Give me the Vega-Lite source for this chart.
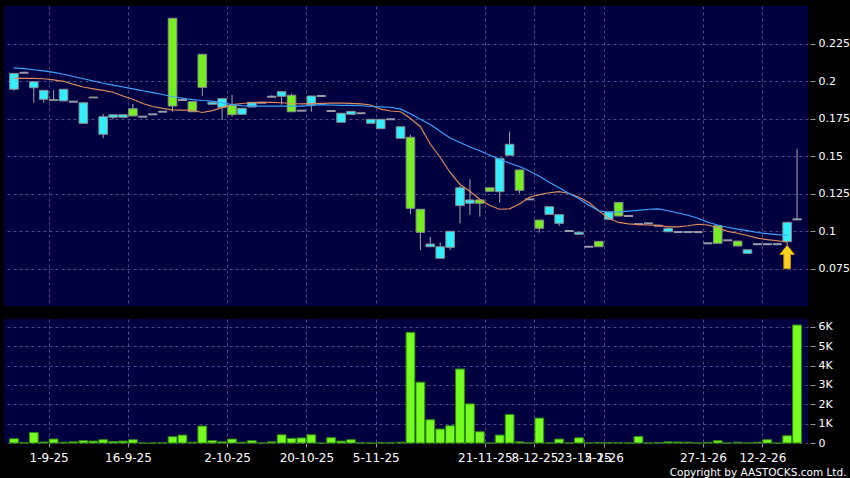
{
  "$schema": "https://vega.github.io/schema/vega-lite/v6.json",
  "background": "#000000",
  "padding": {"left": 4, "top": 6, "right": 0, "bottom": 0},
  "spacing": 13,
  "config": {
    "view": {"fill": "#000040", "stroke": null},
    "font": "DejaVu Sans",
    "axis": {
      "gridColor": "#4c4c80",
      "gridDash": [3, 3],
      "gridWidth": 1,
      "labelColor": "#ffffff",
      "labelFont": "DejaVu Sans",
      "tickColor": "#9a9a9a",
      "domain": false
    }
  },
  "datasets": {
    "k": [
      {"i":0,"open":0.1945,"high":0.2051,"low":0.1935,"close":0.2051,"volume":220,"ma10":0.2018,"ma20":0.2088},
      {"i":1,"open":0.2055,"high":0.2055,"low":0.2055,"close":0.2055,"volume":20,"ma10":0.2018,"ma20":0.2082},
      {"i":2,"open":0.1955,"high":0.1995,"low":0.1855,"close":0.1995,"volume":545,"ma10":0.2018,"ma20":0.2075},
      {"i":3,"open":0.1878,"high":0.1938,"low":0.1855,"close":0.1938,"volume":50,"ma10":0.2015,"ma20":0.2067},
      {"i":4,"open":0.1876,"high":0.194,"low":0.187,"close":0.187,"volume":205,"ma10":0.2008,"ma20":0.2058},
      {"i":5,"open":0.1867,"high":0.1945,"low":0.1867,"close":0.1945,"volume":40,"ma10":0.1998,"ma20":0.2045},
      {"i":6,"open":0.1862,"high":0.1862,"low":0.1862,"close":0.1862,"volume":60,"ma10":0.1978,"ma20":0.203},
      {"i":7,"open":0.1718,"high":0.1855,"low":0.1718,"close":0.1855,"volume":120,"ma10":0.196,"ma20":0.2015},
      {"i":8,"open":0.1893,"high":0.1893,"low":0.1887,"close":0.1887,"volume":100,"ma10":0.1948,"ma20":0.2},
      {"i":9,"open":0.1645,"high":0.178,"low":0.1618,"close":0.1762,"volume":170,"ma10":0.1937,"ma20":0.1985},
      {"i":10,"open":0.1758,"high":0.1775,"low":0.1745,"close":0.1775,"volume":80,"ma10":0.1925,"ma20":0.1972},
      {"i":11,"open":0.1758,"high":0.1775,"low":0.1758,"close":0.1775,"volume":100,"ma10":0.19,"ma20":0.196},
      {"i":12,"open":0.1815,"high":0.1847,"low":0.1767,"close":0.1767,"volume":170,"ma10":0.1878,"ma20":0.1947},
      {"i":13,"open":0.1762,"high":0.1762,"low":0.1762,"close":0.1762,"volume":0,"ma10":0.185,"ma20":0.1935},
      {"i":14,"open":0.1778,"high":0.1778,"low":0.1778,"close":0.1778,"volume":0,"ma10":0.183,"ma20":0.1922},
      {"i":15,"open":0.1795,"high":0.1795,"low":0.1795,"close":0.1795,"volume":10,"ma10":0.1818,"ma20":0.191},
      {"i":16,"open":0.2418,"high":0.2418,"low":0.1795,"close":0.1833,"volume":325,"ma10":0.1808,"ma20":0.1895},
      {"i":17,"open":0.1873,"high":0.189,"low":0.1873,"close":0.1873,"volume":410,"ma10":0.1806,"ma20":0.1885},
      {"i":18,"open":0.1862,"high":0.1862,"low":0.1795,"close":0.1795,"volume":40,"ma10":0.1805,"ma20":0.1876},
      {"i":19,"open":0.2178,"high":0.2178,"low":0.19,"close":0.1958,"volume":875,"ma10":0.179,"ma20":0.187},
      {"i":20,"open":0.1845,"high":0.1858,"low":0.1845,"close":0.1858,"volume":120,"ma10":0.1803,"ma20":0.1866},
      {"i":21,"open":0.1825,"high":0.1882,"low":0.174,"close":0.1882,"volume":60,"ma10":0.1822,"ma20":0.1855},
      {"i":22,"open":0.1838,"high":0.1907,"low":0.1762,"close":0.1776,"volume":205,"ma10":0.1842,"ma20":0.1842},
      {"i":23,"open":0.1778,"high":0.1818,"low":0.1778,"close":0.1818,"volume":40,"ma10":0.185,"ma20":0.1836},
      {"i":24,"open":0.1827,"high":0.1858,"low":0.1827,"close":0.1858,"volume":120,"ma10":0.1855,"ma20":0.1834},
      {"i":25,"open":0.1855,"high":0.1855,"low":0.1855,"close":0.1855,"volume":0,"ma10":0.1857,"ma20":0.1833},
      {"i":26,"open":0.1895,"high":0.1905,"low":0.1895,"close":0.1895,"volume":60,"ma10":0.1858,"ma20":0.1832},
      {"i":27,"open":0.1898,"high":0.1929,"low":0.1842,"close":0.1929,"volume":425,"ma10":0.1855,"ma20":0.1832},
      {"i":28,"open":0.1905,"high":0.1916,"low":0.1795,"close":0.1795,"volume":240,"ma10":0.185,"ma20":0.1833},
      {"i":29,"open":0.1802,"high":0.1802,"low":0.1802,"close":0.1802,"volume":260,"ma10":0.1847,"ma20":0.1833},
      {"i":30,"open":0.1842,"high":0.19,"low":0.1795,"close":0.19,"volume":425,"ma10":0.1849,"ma20":0.1838},
      {"i":31,"open":0.19,"high":0.19,"low":0.19,"close":0.19,"volume":0,"ma10":0.1851,"ma20":0.1842},
      {"i":32,"open":0.18,"high":0.1805,"low":0.18,"close":0.18,"volume":275,"ma10":0.1852,"ma20":0.184},
      {"i":33,"open":0.1725,"high":0.1785,"low":0.1725,"close":0.1785,"volume":100,"ma10":0.1852,"ma20":0.1838},
      {"i":34,"open":0.1778,"high":0.1798,"low":0.1778,"close":0.1798,"volume":170,"ma10":0.1851,"ma20":0.1837},
      {"i":35,"open":0.1785,"high":0.1785,"low":0.1785,"close":0.1785,"volume":10,"ma10":0.1848,"ma20":0.1835},
      {"i":36,"open":0.1718,"high":0.1745,"low":0.1718,"close":0.1745,"volume":0,"ma10":0.184,"ma20":0.183},
      {"i":37,"open":0.1682,"high":0.1745,"low":0.1682,"close":0.1745,"volume":20,"ma10":0.1812,"ma20":0.1828},
      {"i":38,"open":0.1745,"high":0.1745,"low":0.1745,"close":0.1745,"volume":10,"ma10":0.18,"ma20":0.1825},
      {"i":39,"open":0.1618,"high":0.1695,"low":0.1618,"close":0.1695,"volume":40,"ma10":0.1795,"ma20":0.1812},
      {"i":40,"open":0.1625,"high":0.164,"low":0.1113,"close":0.1151,"volume":5710,"ma10":0.175,"ma20":0.1782},
      {"i":41,"open":0.1145,"high":0.1145,"low":0.0873,"close":0.0991,"volume":3140,"ma10":0.1695,"ma20":0.1745},
      {"i":42,"open":0.0895,"high":0.0962,"low":0.0895,"close":0.0913,"volume":1200,"ma10":0.158,"ma20":0.171},
      {"i":43,"open":0.0818,"high":0.0922,"low":0.0818,"close":0.0895,"volume":720,"ma10":0.149,"ma20":0.1665},
      {"i":44,"open":0.0891,"high":0.0998,"low":0.0873,"close":0.0998,"volume":890,"ma10":0.139,"ma20":0.162},
      {"i":45,"open":0.1169,"high":0.13,"low":0.1051,"close":0.1288,"volume":3820,"ma10":0.131,"ma20":0.159},
      {"i":46,"open":0.1185,"high":0.1345,"low":0.1107,"close":0.1207,"volume":2020,"ma10":0.1265,"ma20":0.156},
      {"i":47,"open":0.1207,"high":0.1207,"low":0.1095,"close":0.1185,"volume":580,"ma10":0.121,"ma20":0.1535},
      {"i":48,"open":0.1288,"high":0.1288,"low":0.1265,"close":0.1265,"volume":0,"ma10":0.117,"ma20":0.1505},
      {"i":49,"open":0.1262,"high":0.1485,"low":0.1189,"close":0.1485,"volume":410,"ma10":0.1145,"ma20":0.1478},
      {"i":50,"open":0.1505,"high":0.1662,"low":0.1505,"close":0.1578,"volume":1470,"ma10":0.1148,"ma20":0.1452},
      {"i":51,"open":0.1407,"high":0.1407,"low":0.1251,"close":0.1271,"volume":60,"ma10":0.118,"ma20":0.143},
      {"i":52,"open":0.1211,"high":0.1211,"low":0.1211,"close":0.1211,"volume":0,"ma10":0.1225,"ma20":0.14},
      {"i":53,"open":0.1073,"high":0.1073,"low":0.0989,"close":0.1018,"volume":1285,"ma10":0.1242,"ma20":0.1365},
      {"i":54,"open":0.1111,"high":0.1162,"low":0.1111,"close":0.1162,"volume":0,"ma10":0.1255,"ma20":0.1325},
      {"i":55,"open":0.1051,"high":0.1109,"low":0.1033,"close":0.1109,"volume":205,"ma10":0.1262,"ma20":0.1288},
      {"i":56,"open":0.1,"high":0.1,"low":0.1,"close":0.1,"volume":0,"ma10":0.125,"ma20":0.125},
      {"i":57,"open":0.0978,"high":0.0992,"low":0.0978,"close":0.0992,"volume":270,"ma10":0.1225,"ma20":0.1215},
      {"i":58,"open":0.0895,"high":0.0895,"low":0.0895,"close":0.0895,"volume":0,"ma10":0.119,"ma20":0.1172},
      {"i":59,"open":0.0931,"high":0.0931,"low":0.0895,"close":0.0895,"volume":20,"ma10":0.1135,"ma20":0.1135},
      {"i":60,"open":0.1078,"high":0.1128,"low":0.1078,"close":0.1128,"volume":20,"ma10":0.1085,"ma20":0.1125},
      {"i":61,"open":0.119,"high":0.119,"low":0.11,"close":0.11,"volume":10,"ma10":0.1057,"ma20":0.1127},
      {"i":62,"open":0.11,"high":0.11,"low":0.11,"close":0.11,"volume":0,"ma10":0.1047,"ma20":0.1132},
      {"i":63,"open":0.1046,"high":0.1046,"low":0.1046,"close":0.1046,"volume":340,"ma10":0.1042,"ma20":0.1138},
      {"i":64,"open":0.1051,"high":0.1051,"low":0.1051,"close":0.1051,"volume":0,"ma10":0.104,"ma20":0.1145},
      {"i":65,"open":0.1035,"high":0.1035,"low":0.1035,"close":0.1035,"volume":20,"ma10":0.1037,"ma20":0.1147},
      {"i":66,"open":0.0995,"high":0.1018,"low":0.0995,"close":0.1018,"volume":60,"ma10":0.1028,"ma20":0.1135},
      {"i":67,"open":0.0993,"high":0.0993,"low":0.0993,"close":0.0993,"volume":50,"ma10":0.1027,"ma20":0.112},
      {"i":68,"open":0.0993,"high":0.0993,"low":0.0993,"close":0.0993,"volume":40,"ma10":0.1035,"ma20":0.1105},
      {"i":69,"open":0.0993,"high":0.0993,"low":0.0993,"close":0.0993,"volume":0,"ma10":0.1045,"ma20":0.1085},
      {"i":70,"open":0.0918,"high":0.0918,"low":0.0918,"close":0.0918,"volume":30,"ma10":0.104,"ma20":0.1058},
      {"i":71,"open":0.1035,"high":0.1035,"low":0.0918,"close":0.0918,"volume":120,"ma10":0.1022,"ma20":0.104},
      {"i":72,"open":0.0938,"high":0.0938,"low":0.0938,"close":0.0938,"volume":0,"ma10":0.0998,"ma20":0.1025},
      {"i":73,"open":0.0933,"high":0.0933,"low":0.09,"close":0.09,"volume":40,"ma10":0.0985,"ma20":0.1012},
      {"i":74,"open":0.0851,"high":0.0875,"low":0.0851,"close":0.0875,"volume":0,"ma10":0.097,"ma20":0.1002},
      {"i":75,"open":0.0912,"high":0.0912,"low":0.0912,"close":0.0912,"volume":40,"ma10":0.0953,"ma20":0.099},
      {"i":76,"open":0.0912,"high":0.0912,"low":0.0912,"close":0.0912,"volume":170,"ma10":0.0942,"ma20":0.0982},
      {"i":77,"open":0.0912,"high":0.0912,"low":0.0912,"close":0.0912,"volume":0,"ma10":0.0935,"ma20":0.0976},
      {"i":78,"open":0.0929,"high":0.1058,"low":0.0907,"close":0.1058,"volume":375,"ma10":0.0927,"ma20":0.0972},
      {"i":79,"open":0.1078,"high":0.1547,"low":0.1078,"close":0.1078,"volume":6090,"ma10":null,"ma20":null}
    ]
  },
  "vconcat": [
    {
      "width": 804,
      "height": 300,
      "data": {"name": "k"},
      "encoding": {
        "x": {
          "field": "i",
          "type": "quantitative",
          "scale": {"domain": [-0.5, 79.6], "nice": false, "zero": false},
          "axis": {
            "values": [3.5, 11.5, 21.5, 29.5, 36.5, 47.5, 52.5, 57.5, 59.5, 69.5, 75.5],
            "labels": false,
            "ticks": false,
            "domain": false,
            "grid": true,
            "title": null
          }
        }
      },
      "layer": [
        {
          "mark": {"type": "rule", "color": "#a8a8a8", "strokeWidth": 1},
          "encoding": {
            "y": {
              "field": "low",
              "type": "quantitative",
              "scale": {"domain": [0.05, 0.25], "nice": false, "zero": false},
              "axis": {
                "orient": "right",
                "values": [0.075, 0.1, 0.125, 0.15, 0.175, 0.2, 0.225],
                "format": ".3~g",
                "grid": true,
                "title": null,
                "labelFontSize": 11,
                "tickSize": 5,
                "offset": 2,
                "labelPadding": 3
              }
            },
            "y2": {"field": "high"}
          }
        },
        {
          "transform": [{"filter": "datum.open != datum.close"}],
          "mark": {"type": "bar", "width": 8.6, "stroke": "#8c8c8c", "strokeWidth": 1},
          "encoding": {
            "y": {"field": "open", "type": "quantitative"},
            "y2": {"field": "close"},
            "color": {
              "condition": {"test": "datum.close > datum.open", "value": "#33eeff"},
              "value": "#77ee22"
            }
          }
        },
        {
          "transform": [{"filter": "datum.open == datum.close"}],
          "mark": {"type": "tick", "orient": "horizontal", "size": 9, "thickness": 2, "color": "#9a9aaa", "opacity": 1},
          "encoding": {
            "y": {"field": "open", "type": "quantitative"}
          }
        },
        {
          "mark": {"type": "line", "color": "#dd8a5c", "strokeWidth": 1.2},
          "encoding": {
            "y": {"field": "ma10", "type": "quantitative"}
          }
        },
        {
          "mark": {"type": "line", "color": "#3ca4ff", "strokeWidth": 1.2},
          "encoding": {
            "y": {"field": "ma20", "type": "quantitative"}
          }
        },
        {
          "transform": [{"filter": "datum.i == 78"}],
          "mark": {
            "type": "point",
            "shape": "M0,-1 L0.62,-0.22 L0.28,-0.22 L0.28,1 L-0.28,1 L-0.28,-0.22 L-0.62,-0.22 Z",
            "size": 540,
            "filled": true,
            "fill": "#ffd21f",
            "stroke": "#d39a10",
            "strokeWidth": 1,
            "opacity": 1,
            "yOffset": 12
          },
          "encoding": {
            "y": {"field": "low", "type": "quantitative"}
          }
        }
      ]
    },
    {
      "width": 804,
      "height": 124,
      "data": {"name": "k"},
      "mark": {"type": "bar", "width": 8.8, "fill": "#77ff22", "stroke": "#2e8a12", "strokeWidth": 1},
      "encoding": {
        "x": {
          "field": "i",
          "type": "quantitative",
          "scale": {"domain": [-0.5, 79.6], "nice": false, "zero": false},
          "axis": {
            "values": [3.5, 11.5, 21.5, 29.5, 36.5, 47.5, 52.5, 57.5, 59.5, 69.5, 75.5],
            "labelExpr": "datum.value == 3.5 ? '1-9-25' : datum.value == 11.5 ? '16-9-25' : datum.value == 21.5 ? '2-10-25' : datum.value == 29.5 ? '20-10-25' : datum.value == 36.5 ? '5-11-25' : datum.value == 47.5 ? '21-11-25' : datum.value == 52.5 ? '8-12-25' : datum.value == 57.5 ? '23-12-25' : datum.value == 59.5 ? '5-1-26' : datum.value == 69.5 ? '27-1-26' : '12-2-26'",
            "grid": true,
            "ticks": true,
            "tickSize": 4,
            "labelFontSize": 12,
            "labelPadding": 5,
            "labelOverlap": false,
            "labelBound": false,
            "labelFlush": false,
            "domain": false,
            "title": "Copyright by AASTOCKS.com Ltd.",
            "titleColor": "#ffffff",
            "titleFont": "DejaVu Sans",
            "titleFontSize": 10.5,
            "titleFontWeight": "normal",
            "titleAlign": "right",
            "titleBaseline": "middle",
            "titleAnchor": "end",
            "titleX": 842,
            "titleY": 29
          }
        },
        "y": {
          "field": "volume",
          "type": "quantitative",
          "scale": {"domain": [0, 6400], "nice": false},
          "axis": {
            "orient": "right",
            "values": [0, 1000, 2000, 3000, 4000, 5000, 6000],
            "labelExpr": "datum.value == 0 ? '0' : (datum.value / 1000) + 'K'",
            "grid": true,
            "title": null,
            "labelFontSize": 11,
            "tickSize": 5,
            "offset": 2,
            "labelPadding": 3
          }
        }
      }
    }
  ]
}
